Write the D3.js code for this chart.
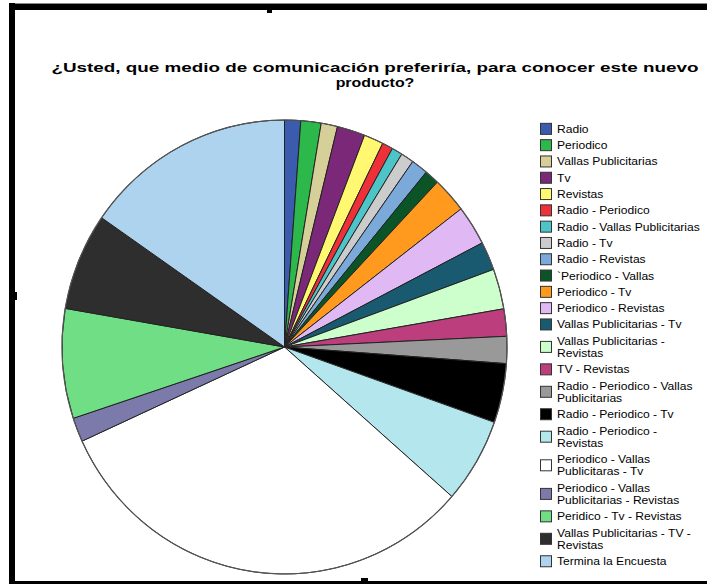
<!DOCTYPE html>
<html><head><meta charset="utf-8">
<script src="https://cdn.jsdelivr.net/npm/d3@7"></script>
<style>body{margin:0;background:#fff}svg{display:block}</style>
</head><body>
<script>
const categories = ["Radio","Periodico","Vallas Publicitarias","Tv","Revistas","Radio - Periodico","Radio - Vallas Publicitarias","Radio - Tv","Radio - Revistas","`Periodico - Vallas","Periodico - Tv","Periodico - Revistas","Vallas Publicitarias - Tv","Vallas Publicitarias -\nRevistas","TV - Revistas","Radio - Periodico - Vallas\nPublicitarias","Radio - Periodico - Tv","Radio - Periodico -\nRevistas","Periodico - Vallas\nPublicitaras - Tv","Periodico - Vallas\nPublicitarias - Revistas","Peridico - Tv - Revistas","Vallas Publicitarias - TV -\nRevistas","Termina la Encuesta"];
const values = [1.17,1.47,1.19,2.03,1.42,0.78,0.78,0.94,1.22,1.06,2.53,2.83,2.03,2.86,1.94,1.92,4.22,6.06,31.75,1.72,7.81,6.92,15.36];
const colors = ["#3a5bae","#2db84b","#d6d098","#7b2878","#fff870","#ee3038","#4cc4c8","#cccccc","#7baada","#0b5428","#ff9a1e","#e0b8f4","#195a70","#ccffcc","#bc3e7c","#9a999a","#000000","#b4e6ee","#ffffff","#7c7aaa","#70de84","#2e2e2e","#aed3ee"];
const titleLines = ["¿Usted, que medio de comunicación preferiría, para conocer este nuevo","producto?"];

const W=707,H=584;
const svg=d3.select("body").append("svg").attr("width",W).attr("height",H);
svg.append("rect").attr("width",W).attr("height",H).attr("fill","#fff");

// frame
svg.append("rect").attr("x",9).attr("y",3).attr("width",W-9).attr("height",1).attr("fill","#888");
svg.append("rect").attr("x",9).attr("y",4).attr("width",W-9).attr("height",6).attr("fill","#000");
svg.append("rect").attr("x",9).attr("y",3).attr("width",6).attr("height",H-3).attr("fill","#000");
svg.append("rect").attr("x",9).attr("y",581).attr("width",W-9).attr("height",3).attr("fill","#000");
// handles
svg.append("rect").attr("x",267).attr("y",9).attr("width",5).attr("height",4).attr("fill","#000");
svg.append("rect").attr("x",15).attr("y",292).attr("width",2).attr("height",8).attr("fill","#000");
svg.append("rect").attr("x",361).attr("y",578).attr("width",7).attr("height",3).attr("fill","#000");

// title
const tg=svg.append("g").attr("font-family","Liberation Sans, Arial, sans-serif")
  .attr("font-size",13.5).attr("font-weight","bold").attr("fill","#000").attr("text-anchor","middle");
titleLines.forEach((l,i)=>{
  const tt=tg.append("text").attr("x",375).attr("y",71.5+i*15.5).text(l);
  if(i===0) tt.attr("textLength",647).attr("lengthAdjust","spacingAndGlyphs");
  else tt.attr("transform","translate(375,0) scale(1.18,1) translate(-375,0)");
});

// pie
const cx=284.5, cy=347, r=222.5, sy=227/222.5;
const pie=d3.pie().sort(null).value(d=>d)(values);
const arc=d3.arc().innerRadius(0).outerRadius(r);
const g=svg.append("g").attr("transform",`translate(${cx},${cy}) scale(1,${sy})`);
g.selectAll("path").data(pie).join("path").attr("d",arc)
  .attr("fill",(d,i)=>colors[i]).attr("stroke","#222").attr("stroke-width",1)
  .attr("vector-effect","non-scaling-stroke").attr("stroke-linejoin","round");
g.append("circle").attr("r",r).attr("fill","none").attr("stroke","#555").attr("stroke-width",1.2).attr("vector-effect","non-scaling-stroke");

// legend
const lg=svg.append("g").attr("font-family","Liberation Sans, Arial, sans-serif").attr("font-size",11).attr("fill","#000");
let yt=120.7; const single=16.3, lh=12.3;
categories.forEach((c,i)=>{
  const lines=c.split("\n"); const n=lines.length;
  const h=single+(n-1)*lh; const yc=yt+h/2;
  lg.append("rect").attr("x",540.5).attr("y",yc-5.5).attr("width",11).attr("height",11)
    .attr("fill",colors[i]).attr("stroke","#333").attr("stroke-width",1);
  const tx=lg.append("text").attr("transform",`translate(557,0) scale(1.1,1)`);
  lines.forEach((l,k)=>{
    tx.append("tspan").attr("x",0).attr("y",yc+(k-(n-1)/2)*lh+4).text(l);
  });
  yt+=h;
});
</script>
</body></html>
